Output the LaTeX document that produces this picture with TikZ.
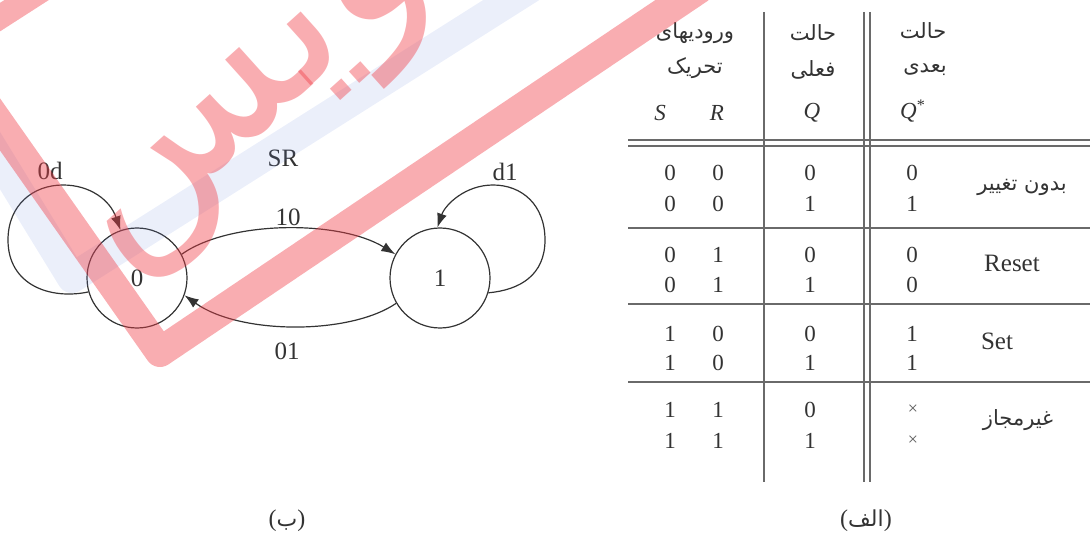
\documentclass[tikz,border=0pt]{standalone}
\usepackage{fontspec}
\setmainfont{Liberation Serif}
\newfontfamily\fa[Script=Arabic]{DejaVu Sans}
\TeXXeTstate=1
\usetikzlibrary{arrows.meta}
\definecolor{ink}{HTML}{333333}
\definecolor{rulec}{HTML}{6A6A6A}
\definecolor{wmred}{RGB}{240,60,70}
\definecolor{wmblue}{RGB}{100,130,220}
\begin{document}
\begin{tikzpicture}[x=0.5pt,y=-0.5pt,
 state/.style={circle,draw=ink,line width=0.6pt,minimum size=50pt,inner sep=0pt,font=\fontsize{12.5}{14}\selectfont,text=ink},
 edge/.style={draw=ink,line width=0.6pt,-{Latex[length=7pt,width=5pt]}},
 lbl/.style={font=\fontsize{12.5}{14}\selectfont,text=ink,inner sep=0pt},
 cell/.style={font=\fontsize{11.5}{13}\selectfont,text=ink,inner sep=0pt},
 xcell/.style={font=\fontsize{9}{11}\selectfont,text=ink!80,inner sep=0pt},
 hdr/.style={font=\fontsize{11.5}{13}\selectfont\itshape,text=ink,inner sep=0pt},
 fatext/.style={font=\fontsize{10.5}{12}\fa,text=ink,inner sep=0pt},
 tline/.style={draw=rulec,line width=0.8pt},
]
\useasboundingbox (0,0) rectangle (1090,539);

% ---- state diagram (b)
\node[state] (n0) at (137,278) {0};
\node[state] (n1) at (440,278) {1};
\draw[edge] (n0.196) .. controls (50,300) and (8,285) .. (8,240)
  .. controls (8,205) and (33,185) .. (63,185)
  .. controls (90,185) and (110,200) .. (n0.109);
\draw[edge] (n1.-17) .. controls (520,290) and (545,275) .. (545,240)
  .. controls (545,205) and (522,185) .. (493,185)
  .. controls (465,185) and (445,205) .. (n1.93);
\draw[edge] (n0.28) .. controls (230,220) and (340,220) .. (n1.152);
\draw[edge] (n1.210) .. controls (350,335) and (240,335) .. (n0.-20);
\node[lbl] (l0d) at (50,171) {0d};
\node[lbl] (lsr) at (283,158) {SR};
\node[lbl] (ld1) at (505,172) {d1};
\node[lbl] (l10) at (288,217) {10};
\node[lbl] (l01) at (287,351) {01};
\node[inner sep=0pt,text=ink] (capb) at (287,521)
  {\fontsize{12}{14}\selectfont(\fontsize{11}{13}\fa\beginR ب\endR\fontsize{12}{14}\selectfont\rmfamily)};

% ---- table (a)
\draw[tline] (628,140) -- (1090,140);
\draw[tline] (628,146) -- (1090,146);
\draw[tline] (628,228) -- (1090,228);
\draw[tline] (628,304) -- (1090,304);
\draw[tline] (628,382) -- (1090,382);
\draw[tline] (764,12) -- (764,482);
\draw[tline] (864,12) -- (864,482);
\draw[tline] (870,12) -- (870,482);

\node[fatext] (h1a) at (695,33) {\beginR ورودیهای\endR};
\node[fatext] (h1b) at (695,68) {\beginR تحریک\endR};
\node[fatext] (h2a) at (813,33) {\beginR حالت\endR};
\node[fatext] (h2b) at (813,70) {\beginR فعلی\endR};
\node[fatext] (h3a) at (923,31) {\beginR حالت\endR};
\node[fatext] (h3b) at (925,70) {\beginR بعدی\endR};
\node[hdr] (hs) at (660,113) {S};
\node[hdr] (hr) at (717,113) {R};
\node[hdr] (hq) at (812,113) {Q};
\node[hdr] (hqs) at (913,111) {Q\textsuperscript{\upshape *}};

\foreach \y/\s/\r/\q/\n [count=\i] in
 {173/0/0/0/0, 204/0/0/1/1, 255/0/1/0/0, 285/0/1/1/0,
  334/1/0/0/1, 363/1/0/1/1}{
  \node[cell] (s\i) at (670,\y) {\s};
  \node[cell] (r\i) at (718,\y) {\r};
  \node[cell] (q\i) at (810,\y) {\q};
  \node[cell] (n\i) at (912,\y) {\n};
}
\foreach \y/\q [count=\i from 7] in {410/0, 441/1}{
  \node[cell] (s\i) at (670,\y) {1};
  \node[cell] (r\i) at (718,\y) {1};
  \node[cell] (q\i) at (810,\y) {\q};
  \node[xcell] (n\i) at (913,\y) {×};
}
\node[fatext] (g1) at (1022,187) {\beginR بدون تغییر\endR};
\node[lbl] (g2) at (1012,263) {Reset};
\node[lbl] (g3) at (997,341) {Set};
\node[fatext] (g4) at (1018,420) {\beginR غیرمجاز\endR};
\node[inner sep=0pt,text=ink] (capa) at (866,521)
  {\fontsize{12}{14}\selectfont(\fontsize{11}{13}\fa\beginR الف\endR\fontsize{12}{14}\selectfont\rmfamily)};

% ---- watermark
\draw[wmblue,opacity=0.13,line width=15pt,line join=round] (-20,128) -- (72,278) -- (535,-15);
\draw[wmred,opacity=0.42,line width=15pt,line join=round] (-20,96) -- (160,352) -- (700,-12);
\draw[wmred,opacity=0.42,line width=12pt] (-20,30) -- (50,-15);
\node[text=wmred,opacity=0.42,rotate=42,inner sep=0pt,font=\fontsize{105}{110}\fa] (wm) at (280,80) {\beginR نویس\endR};
\end{tikzpicture}
\end{document}
